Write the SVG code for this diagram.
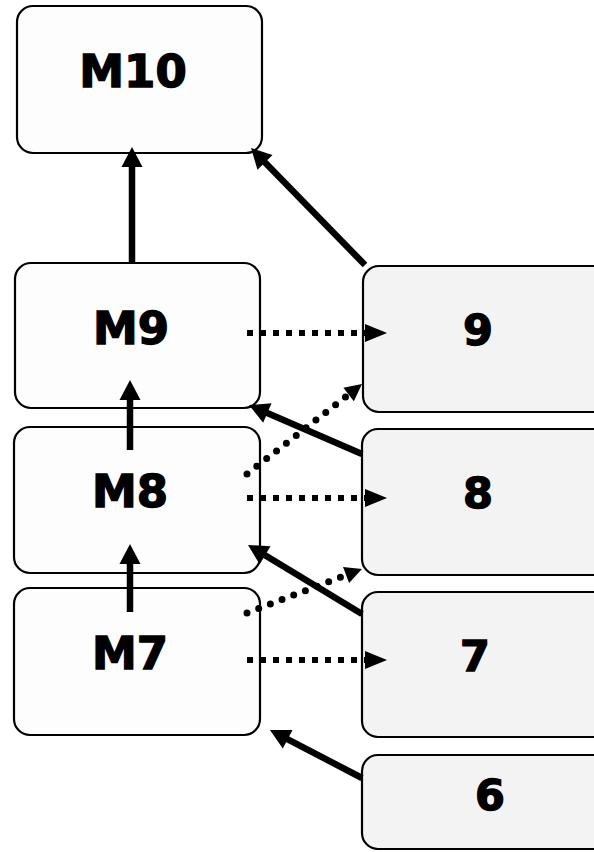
<svg xmlns="http://www.w3.org/2000/svg" width="594" height="852" viewBox="0 0 594 852">
<style>
.box{stroke:#000;stroke-width:2.2}
.l{fill:#fdfdfd}
.r{fill:#f3f3f3}
.t{font-family:"DejaVu Sans","Liberation Sans",sans-serif;font-weight:bold;fill:#000;stroke:#000;stroke-width:1.4;text-anchor:middle}
.lt{font-size:45px}
.rt{font-size:43px}
.solid{stroke:#000;stroke-width:6.5;fill:none;marker-end:url(#sa)}
.dash{stroke:#000;stroke-width:6;fill:none;stroke-dasharray:6 7;marker-end:url(#da)}
.dot{stroke:#000;stroke-width:7;fill:none;stroke-linecap:round;stroke-dasharray:0 12.5;marker-end:url(#pa)}
</style>
<defs>
<marker id="sa" markerUnits="userSpaceOnUse" markerWidth="24" markerHeight="24" viewBox="0 -12 22 24" refX="2" refY="0" orient="auto"><path d="M0,-10.5 L20,0 L0,10.5 z" fill="#000"/></marker>
<marker id="da" markerUnits="userSpaceOnUse" markerWidth="26" markerHeight="24" viewBox="0 -12 24 24" refX="1" refY="0" orient="auto"><path d="M0,-9 L22,0 L0,9 z" fill="#000"/></marker>
<marker id="pa" markerUnits="userSpaceOnUse" markerWidth="22" markerHeight="22" viewBox="0 -11 20 22" refX="1" refY="0" orient="auto"><path d="M0,-8.5 L17,0 L0,8.5 z" fill="#000"/></marker>
</defs>
<rect width="594" height="852" fill="#fff"/>
<g id="M10"><rect class="box l" x="17" y="6" width="245" height="147" rx="16"/><text class="t lt" x="133" y="87">M10</text></g>
<g id="M9"><rect class="box l" x="15" y="263" width="245" height="145" rx="16"/><text class="t lt" x="131" y="344">M9</text></g>
<g id="M8"><rect class="box l" x="14" y="427" width="246" height="146" rx="16"/><text class="t lt" x="130" y="507">M8</text></g>
<g id="M7"><rect class="box l" x="14" y="588" width="246" height="147" rx="16"/><text class="t lt" x="130" y="669">M7</text></g>
<g id="N9"><rect class="box r" x="363" y="266" width="260" height="146" rx="16"/><text class="t rt" x="478" y="345">9</text></g>
<g id="N8"><rect class="box r" x="362" y="429" width="260" height="146" rx="16"/><text class="t rt" x="478" y="508">8</text></g>
<g id="N7"><rect class="box r" x="362" y="592" width="260" height="145" rx="16"/><text class="t rt" x="475" y="671">7</text></g>
<g id="N6"><rect class="box r" x="362" y="755" width="260" height="94" rx="16"/><text class="t rt" x="490" y="810">6</text></g>
<g id="connectors">
<path class="solid" d="M132,263 L132,165"/>
<path class="solid" d="M130,450 L130,398"/>
<path class="solid" d="M130,612 L130,562"/>
<path class="solid" d="M365,265 L263.6,160.9"/>
<path class="solid" d="M362,454 L265.5,412.2"/>
<path class="solid" d="M362,614 L263.4,554.3"/>
<path class="solid" d="M362,778 L285.9,738.3"/>
<path class="dash" d="M247,333 L366,333"/>
<path class="dash" d="M247,498 L366,498"/>
<path class="dash" d="M247,660 L366,660"/>
<path class="dot" d="M247,474 L349.4,393.9"/>
<path class="dot" d="M247,613 L347,574.7"/>
</g>
</svg>
